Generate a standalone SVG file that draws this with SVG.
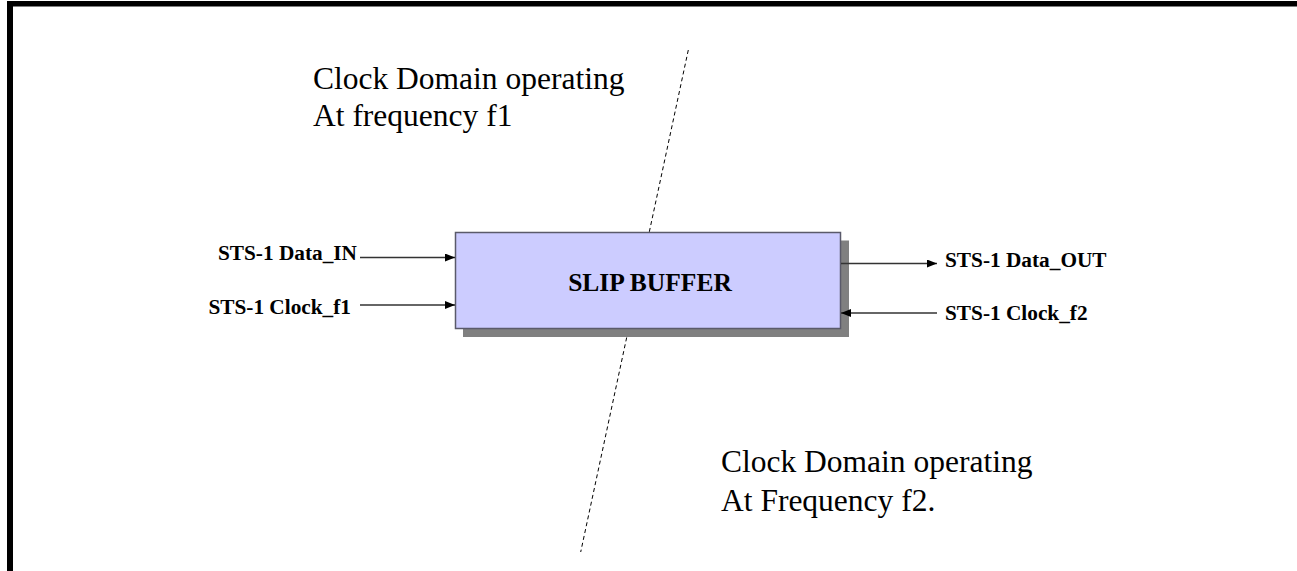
<svg xmlns="http://www.w3.org/2000/svg" width="1297" height="571" viewBox="0 0 1297 571">
  <defs>
    <marker id="arr" viewBox="0 0 10 8" refX="10" refY="4" markerWidth="10" markerHeight="8" markerUnits="userSpaceOnUse" orient="auto">
      <path d="M0,0 L10,4 L0,8 Z" fill="#000"/>
    </marker>
    <style>
      .lbl { font-family: "Liberation Serif", "Times New Roman", serif; font-weight: bold; font-size: 21.3px; fill: #000; }
      .title { font-family: "Liberation Serif", "Times New Roman", serif; font-weight: bold; font-size: 25.5px; fill: #000; }
      .dom { font-family: "Liberation Serif", "Times New Roman", serif; font-size: 31.5px; fill: #000; }
      .wire { stroke: #333; stroke-width: 1.3; fill: none; marker-end: url(#arr); }
    </style>
  </defs>
  <rect x="0" y="0" width="1297" height="571" fill="#fff"/>
  <g id="frame">
    <rect x="7" y="1" width="1290" height="5.5" fill="#000"/>
    <rect x="7" y="1" width="6" height="570" fill="#000"/>
  </g>
  <g id="boundary">
    <line x1="688.3" y1="50" x2="580.7" y2="552" stroke="#000" stroke-width="1" stroke-dasharray="4,3"/>
  </g>
  <g id="slip-buffer">
    <rect x="463" y="240.5" width="386" height="96.5" fill="#808080"/>
    <rect x="455.5" y="232.5" width="385" height="96" fill="#ccccff" stroke="#5a5a6a" stroke-width="1.5"/>
    <text class="title" x="650" y="291" text-anchor="middle">SLIP BUFFER</text>
  </g>
  <g id="label-data-in"><text class="lbl" x="357" y="260" text-anchor="end">STS-1 Data_IN</text></g>
  <g id="label-clock-f1"><text class="lbl" x="351" y="314" text-anchor="end">STS-1 Clock_f1</text></g>
  <g id="label-data-out"><text class="lbl" x="945" y="267">STS-1 Data_OUT</text></g>
  <g id="label-clock-f2"><text class="lbl" x="945" y="320">STS-1 Clock_f2</text></g>
  <g id="domain-f1">
    <text class="dom" x="313" y="89">Clock Domain operating</text>
    <text class="dom" x="313" y="126">At frequency f1</text>
  </g>
  <g id="domain-f2">
    <text class="dom" x="721" y="472">Clock Domain operating</text>
    <text class="dom" x="721" y="511">At Frequency f2.</text>
  </g>
  <g id="connectors">
    <line class="wire" x1="360" y1="257.5" x2="455" y2="257.5"/>
    <line class="wire" x1="360" y1="305" x2="455" y2="305"/>
    <line class="wire" x1="841" y1="263.5" x2="937" y2="263.5"/>
    <line class="wire" x1="937" y1="313" x2="841" y2="313"/>
  </g>
</svg>
